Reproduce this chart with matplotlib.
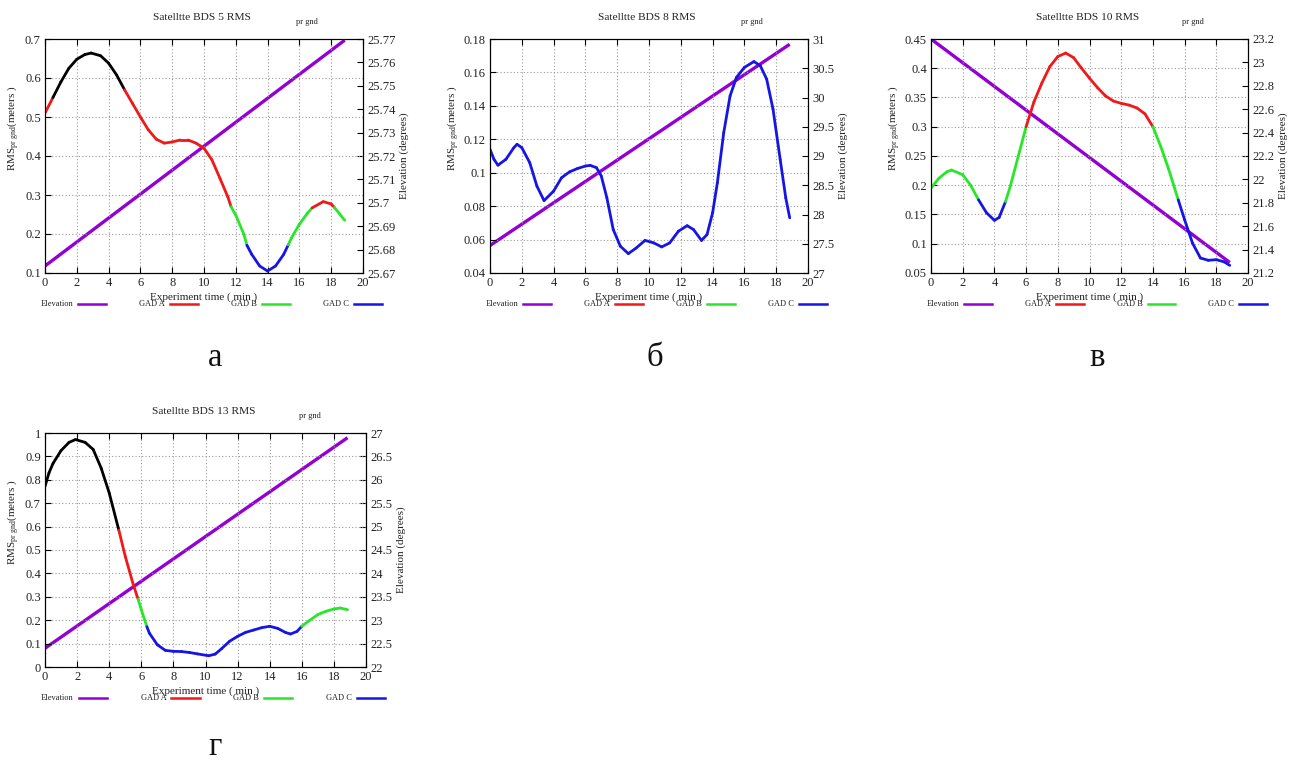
import numpy as np
import matplotlib
matplotlib.use("Agg")
import matplotlib.pyplot as plt
from matplotlib.collections import LineCollection
from matplotlib.lines import Line2D
from matplotlib.ticker import FormatStrFormatter, MultipleLocator

plt.rcParams['font.family'] = ['Liberation Serif', 'DejaVu Serif']

W, H = 1292, 760

# --- BDS 5 ---
t_bds5 = [0, 0.5, 1, 1.5, 2, 2.5, 2.9, 3.5, 4, 4.5, 5, 5.5, 6, 6.5, 7, 7.5, 8,
          8.5, 9, 9.5, 10, 10.5, 11, 11.5, 11.7, 12, 12.5, 12.7, 13, 13.5, 14,
          14.5, 15, 15.3, 15.5, 16, 16.5, 16.8, 17.5, 18, 18.2, 18.5, 18.85]
rms_bds5 = [0.51, 0.55, 0.59, 0.625, 0.648, 0.660, 0.664, 0.657, 0.638, 0.608,
            0.57, 0.535, 0.50, 0.467, 0.443, 0.433, 0.436, 0.441, 0.441, 0.433,
            0.42, 0.39, 0.343, 0.295, 0.27, 0.248, 0.20, 0.171, 0.148, 0.118,
            0.105, 0.118, 0.147, 0.172, 0.19, 0.225, 0.253, 0.267, 0.283, 0.277,
            0.268, 0.253, 0.235]
elev_bds5 = [25.673, 25.7695]

# --- BDS 8 ---
t_bds8 = [0, 0.25, 0.5, 1, 1.5, 1.7, 2, 2.5, 2.95, 3.4, 4, 4.5, 5, 5.5, 6, 6.3,
          6.7, 7, 7.35, 7.75, 8.2, 8.7, 9.2, 9.75, 10.3, 10.8, 11.3, 11.85,
          12.4, 12.8, 13.3, 13.65, 14, 14.3, 14.7, 15.1, 15.5, 16, 16.6, 17,
          17.4, 17.8, 18.25, 18.6, 18.85]
rms_bds8 = [0.114, 0.108, 0.1045, 0.108, 0.115, 0.117, 0.115, 0.106, 0.092,
            0.0833, 0.089, 0.097, 0.1005, 0.1025, 0.104, 0.1044, 0.103, 0.098,
            0.085, 0.066, 0.056, 0.0516, 0.055, 0.0595, 0.058, 0.0556, 0.058,
            0.065, 0.0683, 0.066, 0.0595, 0.063, 0.076, 0.094, 0.124, 0.146,
            0.157, 0.163, 0.1665, 0.164, 0.156, 0.138, 0.108, 0.085, 0.073]
elev_bds8 = [27.47, 30.91]

# --- BDS 10 ---
t_bds10 = [0, 0.5, 1, 1.3, 2, 2.5, 3, 3.5, 4, 4.3, 4.7, 5, 5.5, 6, 6.5, 7, 7.5,
           8, 8.5, 9, 9.5, 10, 10.5, 11, 11.5, 12, 12.5, 13, 13.5, 14, 14.5,
           15, 15.6, 16, 16.5, 17, 17.5, 18, 18.5, 18.85]
rms_bds10 = [0.195, 0.212, 0.223, 0.226, 0.218, 0.2, 0.175, 0.153, 0.14, 0.145,
             0.172, 0.198, 0.249, 0.3, 0.343, 0.375, 0.403, 0.42, 0.426, 0.418,
             0.4, 0.383, 0.367, 0.353, 0.344, 0.34, 0.337, 0.332, 0.322, 0.3,
             0.266, 0.227, 0.175, 0.141, 0.101, 0.0756, 0.0717, 0.0728, 0.069,
             0.063]
elev_bds10 = [23.2, 21.29]

# --- BDS 13 ---
t_bds13 = [0, 0.25, 0.5, 1, 1.5, 1.9, 2.5, 3, 3.5, 4, 4.6, 5, 5.5, 5.8, 6, 6.35,
           6.5, 7, 7.5, 8, 8.5, 9, 9.5, 10.2, 10.6, 11, 11.5, 12, 12.5, 13,
           13.5, 14, 14.5, 15, 15.3, 15.7, 16, 16.5, 17, 17.5, 18, 18.4, 18.85]
rms_bds13 = [0.772, 0.83, 0.87, 0.925, 0.96, 0.972, 0.96, 0.93, 0.85, 0.744,
             0.585, 0.473, 0.352, 0.29, 0.245, 0.172, 0.145, 0.095, 0.071,
             0.067, 0.066, 0.062, 0.056, 0.048, 0.055, 0.078, 0.11, 0.131,
             0.148, 0.158, 0.168, 0.174, 0.165, 0.147, 0.141, 0.152, 0.174,
             0.2, 0.224, 0.238, 0.248, 0.252, 0.245]
elev_bds13 = [22.4, 26.9]

elev_t = [0, 18.85]

# RMS limits separating GAD C / GAD B / GAD A / above GAD A
gad_limits = {
    5: (0.172, 0.27, 0.555),
    8: (0.172, 0.30, 0.58),
    10: (0.172, 0.30, 0.58),
    13: (0.172, 0.29, 0.58),
}

C_ELEV = '#9400d3'
C_A = '#f01818'
C_B = '#28e628'
C_C = '#1515e6'
C_TOP = '#000000'
C_TXT = '#222222'

panels = [
    dict(sat=5, t=t_bds5, rms=rms_bds5, elev=elev_bds5,
         ylim=(0.1, 0.7), ystep=0.1, y2lim=(25.67, 25.77), y2step=0.01,
         box=(45, 39, 363, 273), ylab_x=-0.072,
         letter='а', letter_xy=(215, 366)),
    dict(sat=8, t=t_bds8, rms=rms_bds8, elev=elev_bds8,
         ylim=(0.04, 0.18), ystep=0.02, y2lim=(27, 31), y2step=0.5,
         box=(490, 39, 808, 273), ylab_x=-0.088,
         letter='б', letter_xy=(655, 366)),
    dict(sat=10, t=t_bds10, rms=rms_bds10, elev=elev_bds10,
         ylim=(0.05, 0.45), ystep=0.05, y2lim=(21.2, 23.2), y2step=0.2,
         box=(931, 39, 1248, 273), ylab_x=-0.088,
         letter='в', letter_xy=(1097, 366)),
    dict(sat=13, t=t_bds13, rms=rms_bds13, elev=elev_bds13,
         ylim=(0, 1), ystep=0.1, y2lim=(22, 27), y2step=0.5,
         box=(45, 433, 366, 667), ylab_x=-0.072,
         letter='г', letter_xy=(215, 755)),
]


def seg_color(v, limits):
    lo, mid, hi = limits
    if v < lo:
        return C_C
    if v < mid:
        return C_B
    if v < hi:
        return C_A
    return C_TOP


def draw_panel(fig, p):
    x0, y0, x1, y1 = p['box']
    ax = fig.add_axes([x0 / W, 1 - y1 / H, (x1 - x0) / W, (y1 - y0) / H])
    ax2 = ax.twinx()
    ax.set_zorder(ax2.get_zorder() + 1)
    ax.patch.set_visible(False)

    ax2.plot(elev_t, p['elev'], color=C_ELEV, lw=2.4, solid_capstyle='butt')

    # RMS curve, coloured by which GAD band each piece falls in
    t = np.array(p['t'])
    r = np.array(p['rms'])
    pts = np.column_stack([t, r])
    segs = np.stack([pts[:-1], pts[1:]], axis=1)
    cols = [seg_color((a + b) / 2, gad_limits[p['sat']]) for a, b in zip(r[:-1], r[1:])]
    lc = LineCollection(segs, colors=cols, linewidths=2.0, capstyle='round',
                        joinstyle='round')
    ax.add_collection(lc)

    ax.set_xlim(0, 20)
    ax.set_ylim(*p['ylim'])
    ax2.set_ylim(*p['y2lim'])
    ax.xaxis.set_major_locator(MultipleLocator(2))
    ax.yaxis.set_major_locator(MultipleLocator(p['ystep']))
    ax2.yaxis.set_major_locator(MultipleLocator(p['y2step']))
    ax.yaxis.set_major_formatter(FormatStrFormatter('%g'))
    ax2.yaxis.set_major_formatter(FormatStrFormatter('%g'))

    ax.grid(True, linestyle=(0, (1, 2)), color='#9a9a9a', linewidth=0.8)
    ax.tick_params(direction='in', top=True, right=False, length=4, width=0.8,
                   labelsize=9, pad=3, labelcolor=C_TXT)
    ax2.tick_params(direction='in', length=4, width=0.8, labelsize=9, pad=3,
                    labelcolor=C_TXT)
    for a in (ax, ax2):
        for s in a.spines.values():
            s.set_linewidth(0.8)

    ax.set_xlabel('Experiment time ( min )', fontsize=8, labelpad=2,
                  color=C_TXT)
    ax.set_ylabel(r'RMS$_{\mathregular{pr\ gnd}}$(meters )', fontsize=8,
                  color=C_TXT)
    ax.yaxis.set_label_coords(p['ylab_x'], 0.62)
    ax2.set_ylabel('Elevation (degrees)', fontsize=8, labelpad=3, color=C_TXT)

    ax.text(0.494, 1.094, f"Satelltte BDS {p['sat']} RMS", transform=ax.transAxes,
            ha='center', va='center', fontsize=8.2, color=C_TXT)
    ax.text(0.825, 1.072, 'pr gnd', transform=ax.transAxes,
            ha='center', va='center', fontsize=6, color=C_TXT)

    # key row under the x label
    keys = [('Elevation', C_ELEV), ('GAD A', C_A), ('GAD B', C_B), ('GAD C', C_C)]
    ky = -0.133
    for i, (name, c) in enumerate(keys):
        kx = 0.105 + i * 0.289
        ax.add_line(Line2D([kx, kx + 0.088], [ky, ky], transform=ax.transAxes,
                           color=c, lw=1.8, clip_on=False))
        ax.text(kx - 0.016, ky, name, transform=ax.transAxes, ha='right',
                va='center', fontsize=6, color=C_TXT)

    lx, ly = p['letter_xy']
    fig.text(lx / W, 1 - ly / H, p['letter'], ha='center', va='baseline',
             fontsize=23.5, color='#111111')


fig = plt.figure(figsize=(W / 100, H / 100), dpi=100)
for p in panels:
    draw_panel(fig, p)

fig.savefig('out.png', dpi=100)
